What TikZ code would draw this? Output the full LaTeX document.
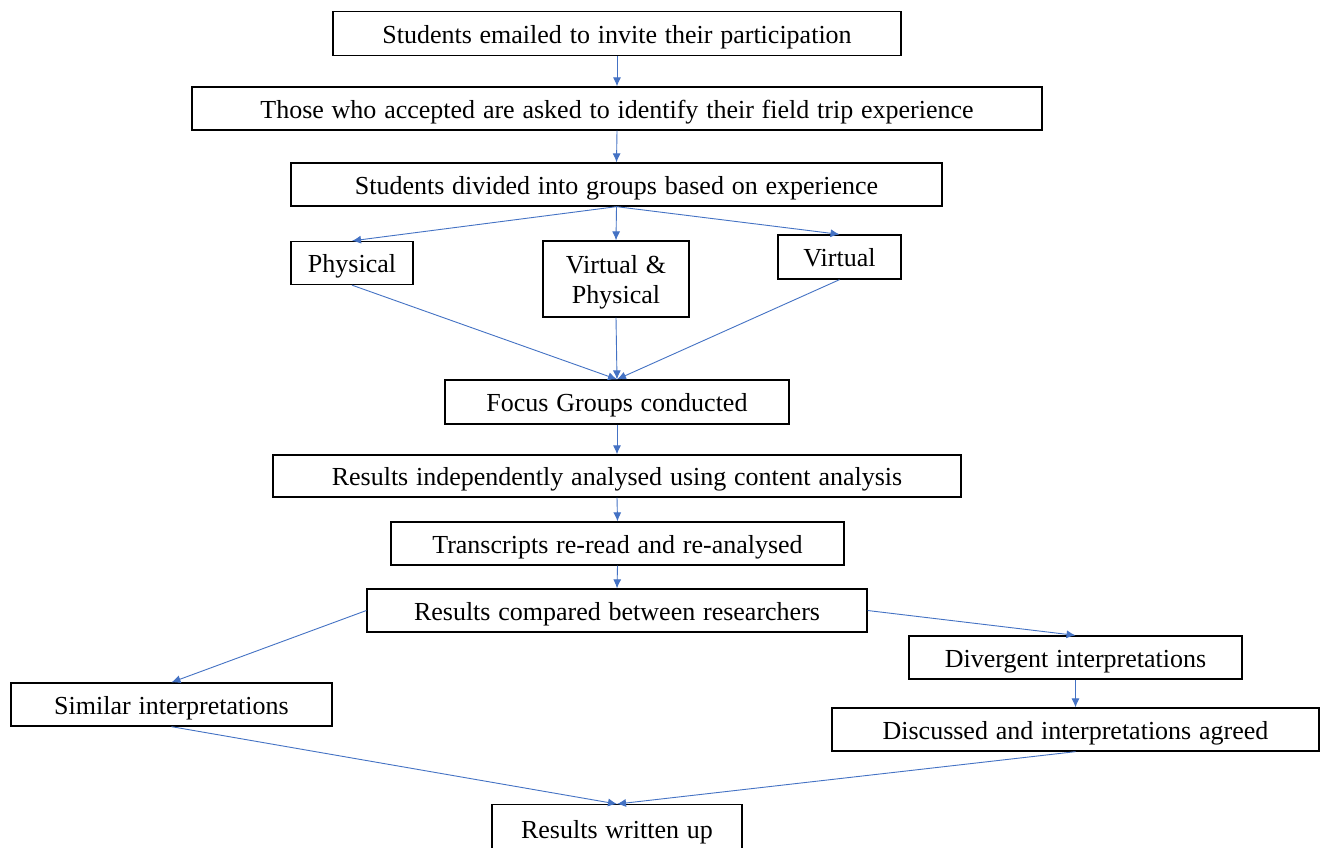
\documentclass[tikz,border=0pt]{standalone}
\usepackage{fontspec}
\setmainfont[WordSpace=1.2]{Liberation Serif}
\usetikzlibrary{arrows.meta}
\definecolor{arrowblue}{HTML}{4472C4}
\tikzset{
  stepbox/.style={draw=black, line width=1.3pt, fill=white, inner sep=0pt,
    font=\fontsize{26}{30}\selectfont, align=center, text height=22pt, text depth=3pt},
  flow/.style={draw=arrowblue, line width=0.9pt, -{Latex[length=9pt,width=8pt]}}
}
\begin{document}
\begin{tikzpicture}[x=1pt,y=-1pt]
\clip (0,0) rectangle (1327,847);
\fill[white] (0,0) rectangle (1327,847);
% boxes: centre, width, height
\node[stepbox, minimum width=568pt, minimum height=44pt] (n1) at (617,33.5) {Students emailed to invite their participation};
\node[stepbox, minimum width=850pt, minimum height=43pt] (n2) at (617,108.5) {Those who accepted are asked to identify their field trip experience};
\node[stepbox, minimum width=651pt, minimum height=43pt] (n3) at (616.5,184.5) {Students divided into groups based on experience};
\node[stepbox, minimum width=122pt, minimum height=43pt] (phys) at (352,263) {Physical};
\node[stepbox, minimum width=146pt, minimum height=76pt, text height=52pt] (vp) at (616,279) {Virtual \&\\Physical};
\node[stepbox, minimum width=123pt, minimum height=44pt] (virt) at (839.5,257) {Virtual};
\node[stepbox, minimum width=344pt, minimum height=44pt] (fg) at (617,402) {Focus Groups conducted};
\node[stepbox, minimum width=688pt, minimum height=42pt] (ria) at (617,476) {Results independently analysed using content analysis};
\node[stepbox, minimum width=453pt, minimum height=43pt] (tr) at (617.5,543.5) {Transcripts re-read and re-analysed};
\node[stepbox, minimum width=500pt, minimum height=43pt] (rc) at (617,610.5) {Results compared between researchers};
\node[stepbox, minimum width=333pt, minimum height=43pt] (div) at (1075.5,657.5) {Divergent interpretations};
\node[stepbox, minimum width=321pt, minimum height=43pt] (sim) at (171.5,704.5) {Similar interpretations};
\node[stepbox, minimum width=487pt, minimum height=43pt] (disc) at (1075.5,729.5) {Discussed and interpretations agreed};
\node[stepbox, minimum width=250pt, minimum height=56pt, anchor=north] (rw) at (617,804) {};
\node[font=\fontsize{26}{30}\selectfont, anchor=base] (rwt) at (617,838) {Results written up};
% connectors
\draw[flow] (n1.south) -- (n2.north);
\draw[flow] (n2.south) -- (n3.north);
\draw[flow] (n3.south) -- (phys.north);
\draw[flow] (n3.south) -- (vp.north);
\draw[flow] (n3.south) -- (virt.north);
\draw[flow] (phys.south) -- (fg.north);
\draw[flow] (vp.south) -- (fg.north);
\draw[flow] (virt.south) -- (fg.north);
\draw[flow] (fg.south) -- (ria.north);
\draw[flow] (ria.south) -- (tr.north);
\draw[flow] (tr.south) -- (rc.north);
\draw[flow] (rc.west) -- (sim.north);
\draw[flow] (rc.east) -- (div.north);
\draw[flow] (div.south) -- (disc.north);
\draw[flow] (sim.south) -- (rw.north);
\draw[flow] (disc.south) -- (rw.north);
\end{tikzpicture}
\end{document}
